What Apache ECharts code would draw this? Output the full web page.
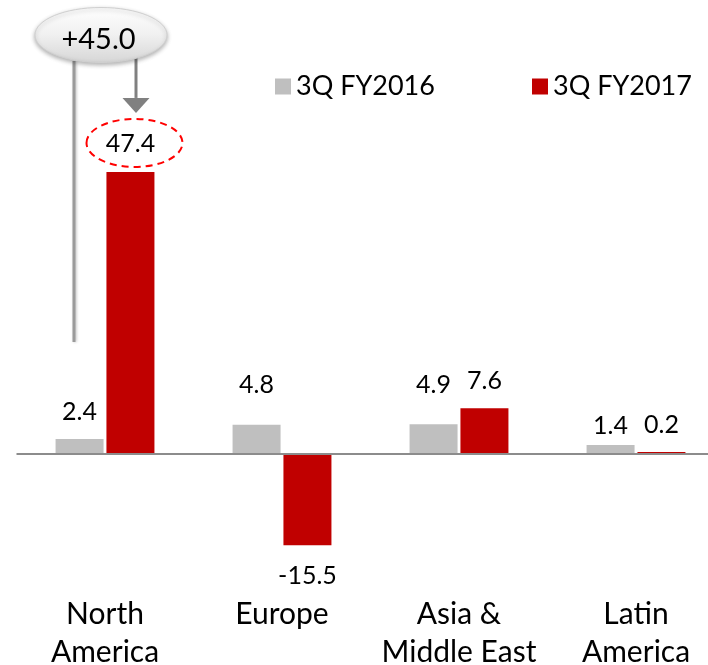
<!DOCTYPE html>
<html>
<head>
<meta charset="utf-8">
<script src="https://cdn.jsdelivr.net/npm/echarts@6/dist/echarts.min.js"></script>
<style>
html,body{margin:0;padding:0;background:#fff;}
#chart{width:708px;height:665px;}
</style>
</head>
<body>
<div id="chart"></div>
<script>
// ---- data ----
const categories = ['North\nAmerica', 'Europe', 'Asia &\nMiddle East', 'Latin\nAmerica'];
const seriesNames = ['3Q FY2016', '3Q FY2017'];
const values2016 = [2.4, 4.8, 4.9, 1.4];
const values2017 = [47.4, -15.5, 7.6, 0.2];
const calloutText = '+45.0';

// ---- layout / style config ----
const FONT = 'Lato, "Open Sans", sans-serif';
const nudge2016 = [0, -12, -12, 8];
const nudge2017 = [0, 0, 0, 0];

function buildData(vals, nudge) {
  return vals.map((v, i) => ({
    value: v,
    label: {
      position: v < 0 ? 'bottom' : 'top',
      distance: v < 0 ? 18 : 15,
      offset: [0, nudge[i]]
    }
  }));
}

const chart = echarts.init(document.getElementById('chart'), null, {renderer: 'canvas'});

const labelStyle = {
  show: true,
  color: '#000',
  fontFamily: FONT,
  fontSize: 25,
  formatter: p => p.value.toFixed(1)
};

const legendText = {fontFamily: FONT, fontSize: 27, color: '#000'};

chart.setOption({
  animation: false,
  backgroundColor: '#fff',
  grid: {left: 16.5, width: 708, top: 156.5, height: 415.5, containLabel: false, outerBoundsMode: 'none'},
  legend: [
    {data: [seriesNames[0]], left: 270, top: 68, itemWidth: 16, itemHeight: 16, itemGap: 10,
     icon: 'rect', textStyle: legendText, selectedMode: false},
    {data: [seriesNames[1]], left: 527, top: 68, itemWidth: 16, itemHeight: 16, itemGap: 10,
     icon: 'rect', textStyle: legendText, selectedMode: false}
  ],
  xAxis: {
    type: 'category',
    data: categories,
    axisLine: {show: false, onZero: false},
    axisTick: {show: false},
    axisLabel: {fontFamily: FONT, fontSize: 30, color: '#000', margin: 23, lineHeight: 38, interval: 0}
  },
  yAxis: {
    type: 'value', min: -20, max: 50, show: false,
    splitLine: {show: false}
  },
  series: [
    {
      name: seriesNames[0], type: 'bar', barWidth: 48, barGap: '6%',
      itemStyle: {color: '#bfbfbf'},
      label: labelStyle,
      data: buildData(values2016, nudge2016),
      markLine: {
        silent: true, symbol: ['none', 'none'], z: 10,
        label: {show: false},
        lineStyle: {color: '#8c8c8c', width: 2, type: 'solid'},
        data: [{yAxis: 0}]
      }
    },
    {
      name: seriesNames[1], type: 'bar', barWidth: 48,
      itemStyle: {color: '#c00000'},
      label: labelStyle,
      data: buildData(values2017, nudge2017)
    }
  ]
});

// ---- annotations anchored to the North America bars ----
const naTop = chart.convertToPixel({xAxisIndex: 0, yAxisIndex: 0}, [0, values2017[0]]);
const naGrey = chart.convertToPixel({xAxisIndex: 0, yAxisIndex: 0}, [0, values2016[0]]);
const redX = naTop[0] + 25.5;
const greyX = naTop[0] - 25.5;
const callCx = naTop[0] - 4, callCy = 35;

chart.setOption({
  graphic: [
    {type: 'line', z: 5, shape: {x1: greyX - 5.5, y1: callCy + 26, x2: greyX - 5.5, y2: naGrey[1] - 97},
     style: {stroke: '#9a9a9a', lineWidth: 3, shadowColor: 'rgba(0,0,0,0.25)', shadowBlur: 3, shadowOffsetX: 1}},
    {type: 'line', z: 5, shape: {x1: redX + 5.5, y1: callCy + 22, x2: redX + 5.5, y2: naTop[1] - 74},
     style: {stroke: '#808080', lineWidth: 3}},
    {type: 'polygon', z: 5, shape: {points: [[redX + 5.5 - 13.5, naTop[1] - 74], [redX + 5.5 + 13.5, naTop[1] - 74], [redX + 5.5, naTop[1] - 59]]},
     style: {fill: '#808080'}},
    {type: 'ellipse', z: 6, shape: {cx: callCx, cy: callCy, rx: 66, ry: 27.5},
     style: {
       fill: new echarts.graphic.LinearGradient(0, 0, 0, 1, [
         {offset: 0, color: '#ffffff'}, {offset: 0.5, color: '#f0f0f0'}, {offset: 1, color: '#d6d6d6'}
       ]),
       stroke: '#d0d0d0', lineWidth: 1,
       shadowColor: 'rgba(0,0,0,0.3)', shadowBlur: 4, shadowOffsetY: 2
     }},
    {type: 'text', z: 7, x: callCx - 2.5, y: callCy + 5,
     style: {text: calloutText, fontFamily: FONT, fontSize: 29, fill: '#000', align: 'center', verticalAlign: 'middle'}},
    {type: 'ellipse', z: 6, shape: {cx: redX + 4, cy: naTop[1] - 29, rx: 48, ry: 24},
     style: {fill: 'none', stroke: '#ff0000', lineWidth: 2, lineDash: [7, 5]}}
  ]
});
</script>
</body>
</html>
